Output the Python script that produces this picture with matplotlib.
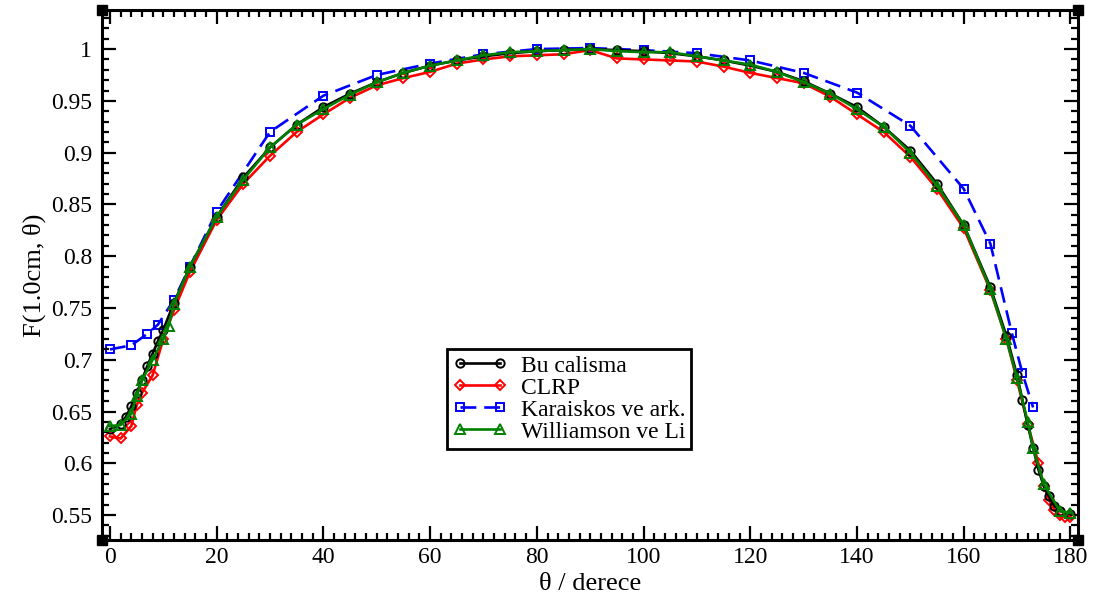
import matplotlib
matplotlib.use("Agg")
import matplotlib.pyplot as plt
from matplotlib.ticker import MultipleLocator, FuncFormatter

# ---- data ----
x_bu = [0, 2, 3, 4, 5, 6, 7, 8, 9, 10, 12, 15,
        20, 25, 30, 35, 40, 45, 50, 55, 60, 65, 70, 75, 80, 85, 90, 95, 100, 105,
        110, 115, 120, 125, 130, 135, 140, 145, 150, 155, 160, 165,
        168, 170, 171, 172, 173, 174, 175, 176, 177, 178, 180]
y_bu = [0.633, 0.638, 0.645, 0.655, 0.668, 0.680, 0.694, 0.706, 0.718, 0.729, 0.755, 0.790,
        0.838, 0.876, 0.905, 0.927, 0.944, 0.957, 0.968, 0.977, 0.984, 0.989, 0.993, 0.996,
        0.998, 0.999, 1.000, 0.999, 0.998, 0.996, 0.993, 0.989, 0.984, 0.978, 0.969, 0.957,
        0.944, 0.925, 0.902, 0.870, 0.830, 0.770,
        0.723, 0.685, 0.661, 0.637, 0.615, 0.594, 0.578, 0.568, 0.559, 0.554, 0.551]

x_clrp = [0, 2, 4, 5, 6, 8, 10, 12, 15,
          20, 25, 30, 35, 40, 45, 50, 55, 60, 65, 70, 75, 80, 85, 90, 95, 100, 105,
          110, 115, 120, 125, 130, 135, 140, 145, 150, 155, 160, 165,
          168, 170, 172, 174, 175, 176, 177, 178, 179, 180]
y_clrp = [0.626, 0.624, 0.636, 0.656, 0.668, 0.685, 0.720, 0.748, 0.785,
          0.835, 0.870, 0.897, 0.920, 0.937, 0.953, 0.965, 0.972, 0.978, 0.986, 0.990,
          0.993, 0.994, 0.995, 0.999, 0.991, 0.990, 0.989, 0.988, 0.983, 0.977, 0.972,
          0.967, 0.954, 0.937, 0.920, 0.896, 0.865, 0.827, 0.767,
          0.720, 0.680, 0.638, 0.600, 0.578, 0.565, 0.555, 0.550, 0.548, 0.548]

x_kar = [0, 4, 7, 9, 12, 15, 20, 30, 40, 50, 60, 70, 80, 90, 100, 110, 120, 130,
         140, 150, 160, 165, 169, 171, 173]
y_kar = [0.710, 0.714, 0.725, 0.734, 0.758, 0.790, 0.843, 0.920, 0.955, 0.975, 0.986,
         0.995, 1.000, 1.001, 0.999, 0.996, 0.989, 0.977, 0.958, 0.926, 0.865, 0.812,
         0.726, 0.687, 0.654]

x_wl = [0, 2, 4, 5, 6, 8, 10, 11, 12, 15,
        20, 25, 30, 35, 40, 45, 50, 55, 60, 65, 70, 75, 80, 85, 90, 95, 100, 105,
        110, 115, 120, 125, 130, 135, 140, 145, 150, 155, 160, 165,
        168, 170, 172, 173, 175, 178, 180]
y_wl = [0.636, 0.637, 0.648, 0.665, 0.680, 0.700, 0.720, 0.733, 0.754, 0.790,
        0.838, 0.874, 0.905, 0.927, 0.942, 0.956, 0.968, 0.977, 0.984, 0.989, 0.994,
        0.997, 0.998, 0.999, 1.000, 0.998, 0.997, 0.997, 0.993, 0.989, 0.985, 0.978,
        0.968, 0.957, 0.942, 0.925, 0.900, 0.868, 0.830, 0.768,
        0.720, 0.682, 0.640, 0.615, 0.580, 0.554, 0.552]

labels = ["Bu calisma", "CLRP", "Karaiskos ve ark.", "Williamson ve Li"]

plt.rcParams['font.family'] = ['Liberation Serif', 'DejaVu Serif']

fig = plt.figure(figsize=(10.96, 6.02), dpi=100)
ax = fig.add_axes([0.093, 0.103, 0.891, 0.880])

lw = 1.9
ax.plot(x_bu, y_bu, color='black', lw=lw, marker='o', ms=6, mfc='none', mew=1.4,
        label=labels[0], zorder=3)
ax.plot(x_clrp, y_clrp, color='red', lw=lw, marker='D', ms=5.5, mfc='none', mew=1.4,
        label=labels[1], zorder=2)
ax.plot(x_kar, y_kar, color='blue', lw=lw, marker='s', ms=6, mfc='none', mew=1.4,
        dashes=(6, 3), label=labels[2], zorder=1)
ax.plot(x_wl, y_wl, color='green', lw=lw, marker='^', ms=6.5, mfc='none', mew=1.4,
        label=labels[3], zorder=4)

ax.set_xlim(-1.5, 181.5)
ax.set_ylim(0.526, 1.0375)
ax.xaxis.set_major_locator(MultipleLocator(20))
ax.xaxis.set_minor_locator(MultipleLocator(2))
ax.yaxis.set_major_locator(MultipleLocator(0.05))
ax.yaxis.set_minor_locator(MultipleLocator(0.01))
ax.yaxis.set_major_formatter(FuncFormatter(lambda v, p: '%g' % round(v, 2)))

ax.tick_params(which='both', direction='in', top=True, right=True, labelsize=17,
               width=1.6, colors='black')
ax.tick_params(which='major', length=10)
ax.tick_params(which='minor', length=5)
ax.tick_params(axis='y', which='major', pad=7)
ax.tick_params(axis='x', which='major', pad=5)
for s in ax.spines.values():
    s.set_linewidth(2.2)

ax.set_xlabel('θ / derece', fontsize=19, labelpad=4)
ax.set_ylabel('F(1.0cm, θ)', fontsize=19, labelpad=4)

# corner squares
ax.plot([0, 1, 0, 1], [0, 0, 1, 1], ls='none', marker='s', ms=7, color='black',
        transform=ax.transAxes, clip_on=False, zorder=10)

leg = ax.legend(loc='upper left', bbox_to_anchor=(0.353, 0.36), fontsize=17,
                fancybox=False, edgecolor='black', framealpha=1, handlelength=2.3,
                numpoints=2, borderpad=0.25, labelspacing=0.02, handletextpad=0.6,
                borderaxespad=0)
leg.get_frame().set_linewidth(2)

fig.savefig('out.png', dpi=100)
